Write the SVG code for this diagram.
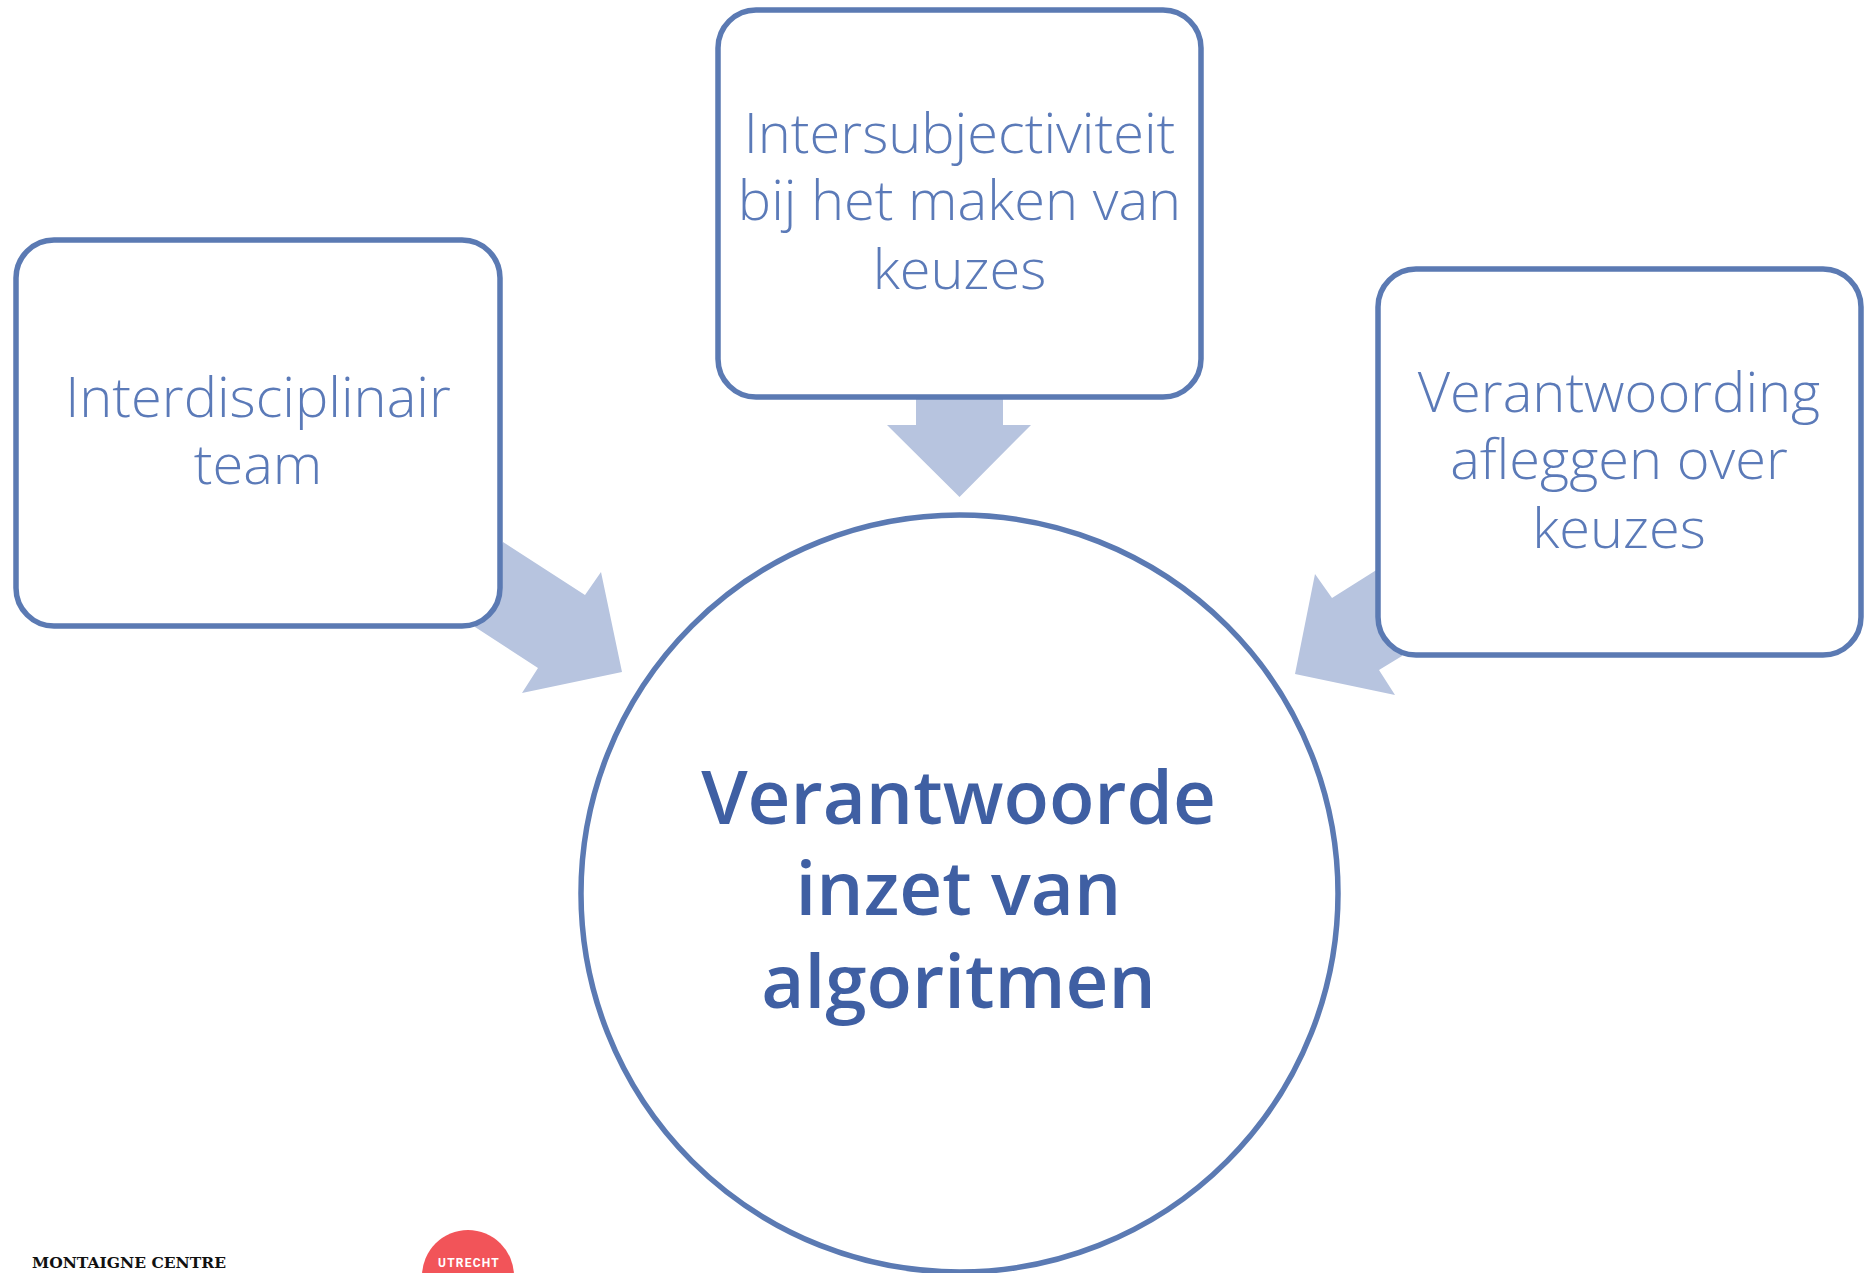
<svg xmlns="http://www.w3.org/2000/svg" width="1867" height="1273" viewBox="0 0 1867 1273">
<style>
.box{fill:#fff;stroke:#5b7ab3;stroke-width:5.500}
.arrow{fill:#b7c4df}
.lbl{font-family:"Open Sans","Noto Sans",sans-serif;font-weight:300;font-size:56px;fill:#5b7ab8;text-anchor:middle}
.main{font-family:"Open Sans","Noto Sans",sans-serif;font-weight:600;font-size:74.500px;fill:#3f5fa3;text-anchor:middle}
</style>
<rect width="1867" height="1273" fill="#fff"/>
<g id="connectors">
<polygon class="arrow" points="503,542 585,595 601,572 622,672 522,693 538,668 475,627"/>
<polygon class="arrow" points="916,396 1003,396 1003,425 1031,425 959.500,497 887,425 916,425"/>
<polygon class="arrow" points="1378,569 1332,598 1315,574 1295,674 1395,695 1379,670 1402,656"/>
</g>
<g id="node-interdisciplinair">
<rect class="box" x="16" y="240" width="484" height="386" rx="38"/>
<text class="lbl" x="258" y="417">Interdisciplinair</text>
<text class="lbl" x="258" y="484">team</text>
</g>
<g id="node-intersubjectiviteit">
<rect class="box" x="718" y="10" width="483" height="387" rx="38"/>
<text class="lbl" x="959.500" y="153">Intersubjectiviteit</text>
<text class="lbl" x="959.500" y="220">bij het maken van</text>
<text class="lbl" x="959.500" y="289">keuzes</text>
</g>
<g id="node-verantwoording">
<rect class="box" x="1378" y="269" width="483" height="386" rx="38"/>
<text class="lbl" x="1619" y="412">Verantwoording</text>
<text class="lbl" x="1619" y="479">afleggen over</text>
<text class="lbl" x="1619" y="548">keuzes</text>
</g>
<g id="node-center">
<circle class="box" cx="959.500" cy="893.500" r="378.500"/>
<text class="main" x="958.500" y="824">Verantwoorde</text>
<text class="main" x="958.500" y="915">inzet van</text>
<text class="main" x="958.500" y="1008">algoritmen</text>
</g>
<g id="logo">
<text x="32" y="1268" font-family="'DejaVu Serif',serif" font-weight="700" font-size="15.500px" fill="#111">MONTAIGNE CENTRE</text>
<circle cx="468" cy="1276" r="46" fill="#f25459"/>
<text x="469" y="1267" font-family="'Roboto',sans-serif" font-weight="700" font-size="12px" letter-spacing="1.200" fill="#fff" text-anchor="middle">UTRECHT</text>
</g>
</svg>
